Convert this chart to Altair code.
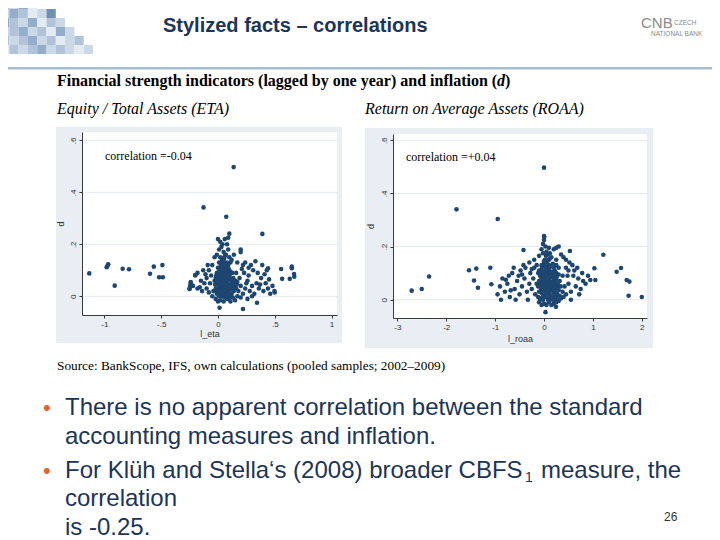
import altair as alt
import pandas as pd

# ------------------------------------------------------------------ data
# (l_eta, d) pairs
eta_points = [
    (-1.133, 0.088), (-0.980, 0.112), (-0.966, 0.123), (-0.972, 0.117), (-0.909, 0.041),
    (-0.839, 0.106), (-0.783, 0.104), (-0.598, 0.087), (-0.565, 0.114), (-0.518, 0.073),
    (-0.489, 0.120), (-0.485, 0.073), (-0.127, 0.342), (0.138, 0.497), (0.073, 0.306),
    (0.391, 0.240), (0.100, 0.241), (0.090, 0.225), (0.014, -0.044), (0.220, -0.049),
    (0.344, -0.025), (0.650, 0.114), (0.650, 0.108), (0.670, 0.086), (0.672, 0.075),
    (0.556, 0.105), (0.565, 0.067), (0.632, 0.067), (0.497, 0.020), (0.441, 0.108),
    (-0.200, 0.082), (-0.250, 0.028), (-0.240, 0.050), (-0.245, 0.040),
    (0.00, 0.22), (0.02, 0.21), (0.04, 0.20), (0.03, 0.19), (0.06, 0.22), (0.08, 0.20),
    (0.05, 0.17), (-0.01, 0.16), (0.01, 0.18), (0.10, 0.15), (0.14, 0.16), (0.12, 0.14),
    (0.17, 0.13), (0.20, 0.17), (0.20, 0.18), (0.24, 0.13), (0.27, 0.11), (0.22, 0.12),
    (-0.03, 0.15), (0.07, 0.16), (0.09, 0.18), (0.11, 0.13),
    (-0.05, 0.12), (-0.08, 0.10), (-0.10, 0.07), (-0.12, 0.05), (-0.15, 0.06), (-0.18, 0.09),
    (-0.20, 0.08), (-0.22, 0.04), (-0.25, 0.03), (-0.24, 0.055), (-0.18, 0.03), (-0.14, 0.02),
    (-0.10, 0.03), (-0.07, 0.05), (-0.06, 0.08), (-0.09, 0.12), (-0.13, 0.10), (-0.04, 0.02),
    (-0.05, 0.00), (-0.03, 0.06), (-0.11, 0.085), (-0.16, 0.035), (-0.08, 0.015),
    (-0.02, -0.01), (0.00, -0.02), (0.02, -0.015), (0.05, -0.02), (0.08, -0.01), (0.11, -0.02),
    (0.13, -0.005), (0.15, -0.015), (-0.01, 0.01), (0.01, 0.00), (0.03, 0.01), (0.06, 0.005),
    (0.09, 0.00), (0.12, 0.01), (0.14, 0.02), (0.17, 0.00), (-0.02, 0.03), (0.00, 0.025),
    (0.02, 0.035), (0.04, 0.02), (0.07, 0.03), (0.10, 0.025), (0.13, 0.035), (0.16, 0.03),
    (-0.01, 0.05), (0.01, 0.045), (0.03, 0.055), (0.05, 0.04), (0.08, 0.05), (0.11, 0.045),
    (0.14, 0.055), (-0.02, 0.07), (0.00, 0.065), (0.02, 0.075), (0.05, 0.065), (0.07, 0.07),
    (0.10, 0.075), (0.12, 0.065), (-0.01, 0.09), (0.01, 0.085), (0.03, 0.095), (0.06, 0.09),
    (0.09, 0.085), (0.11, 0.095), (0.00, 0.11), (0.02, 0.105), (0.04, 0.115), (0.07, 0.11),
    (0.09, 0.12), (0.01, 0.13), (0.03, 0.125), (0.05, 0.135), (0.08, 0.13), (0.02, 0.15),
    (0.04, 0.145), (0.06, 0.155),
    (0.005, 0.015), (0.025, 0.025), (0.045, 0.03), (0.065, 0.015), (0.085, 0.02), (0.105, 0.01),
    (0.125, 0.025), (0.035, 0.00), (0.055, -0.005), (0.075, 0.005), (0.095, -0.01), (0.115, 0.00),
    (0.015, 0.06), (0.035, 0.07), (0.055, 0.055), (0.075, 0.06), (0.095, 0.065), (0.115, 0.06),
    (0.135, 0.07), (0.005, 0.08), (0.025, 0.09), (0.045, 0.08), (0.065, 0.085), (0.085, 0.095),
    (0.105, 0.085), (0.125, 0.09), (0.015, 0.10), (0.035, 0.105), (0.055, 0.10), (0.075, 0.095),
    (0.095, 0.105), (0.025, 0.12), (0.045, 0.125), (0.065, 0.12), (0.085, 0.115), (0.035, 0.14),
    (0.055, 0.145), (0.005, 0.04), (0.025, 0.045), (0.045, 0.05), (0.065, 0.045), (0.085, 0.035),
    (0.105, 0.04), (0.125, 0.05), (0.145, 0.04), (-0.015, 0.02), (-0.025, 0.045), (-0.015, 0.08),
    (0.155, 0.06), (0.165, 0.045),
    (0.18, 0.02), (0.20, 0.04), (0.22, 0.01), (0.24, 0.03), (0.26, 0.06), (0.28, 0.02),
    (0.30, 0.04), (0.32, 0.01), (0.34, 0.05), (0.36, 0.03), (0.38, 0.07), (0.40, 0.02),
    (0.42, 0.05), (0.44, 0.03), (0.46, 0.01), (0.48, 0.04), (0.50, 0.015), (0.19, 0.07),
    (0.23, 0.09), (0.27, 0.08), (0.31, 0.10), (0.35, 0.09), (0.39, 0.12), (0.41, 0.085),
    (0.45, 0.065), (0.29, 0.12), (0.33, 0.135), (0.21, 0.105), (0.25, 0.05), (0.37, 0.045),
    (0.17, 0.055), (0.16, 0.09), (0.43, 0.10), (0.30, 0.00), (0.26, -0.01), (0.20, -0.005),
]

# (l_roaa, d) pairs
roaa_points = [
    (-2.706, 0.034), (-2.500, 0.040), (-2.350, 0.087), (-1.790, 0.340), (-0.947, 0.304),
    (0.000, 0.497), (-1.534, 0.111), (-1.385, 0.117), (-1.431, 0.072), (-1.350, 0.045),
    (-1.098, 0.120), (-1.077, 0.058), (1.213, 0.169), (1.030, 0.118), (1.486, 0.105),
    (1.575, 0.119), (1.690, 0.074), (1.745, 0.068), (1.730, 0.015), (2.000, 0.010),
    (-0.420, 0.187), (0.005, 0.237), (0.030, -0.047), (0.245, -0.027), (0.530, 0.183),
    (0.947, 0.074), (1.050, 0.074),
    (0.00, 0.24), (0.00, 0.225), (-0.02, 0.21), (0.03, 0.20), (0.10, 0.195), (0.20, 0.19),
    (0.25, 0.195), (0.30, 0.20), (-0.05, 0.19), (0.05, 0.18), (0.12, 0.175), (0.15, 0.16),
    (-0.10, 0.165), (0.35, 0.17), (0.45, 0.15), (0.40, 0.16), (-0.20, 0.15), (-0.30, 0.14),
    (0.25, 0.15),
    (-0.95, 0.02), (-0.90, 0.05), (-0.85, 0.08), (-0.80, 0.03), (-0.75, 0.06), (-0.70, 0.01),
    (-0.65, 0.10), (-0.60, 0.04), (-0.55, 0.07), (-0.50, 0.02), (-0.48, 0.11), (-0.45, 0.05),
    (-0.40, 0.08), (-0.38, 0.12), (-0.35, 0.03), (-0.30, 0.06), (-0.28, 0.10), (-0.25, 0.04),
    (-0.22, 0.08), (-0.20, 0.12), (-0.18, 0.02), (-0.15, 0.06), (-0.12, 0.10), (-0.62, 0.12),
    (-0.72, 0.09), (-0.88, 0.00), (-0.58, 0.00), (-0.42, 0.13), (-0.52, 0.09), (-0.33, 0.00),
    (-0.68, 0.035), (-0.78, 0.075), (-0.45, 0.095), (-0.15, 0.13), (-0.25, 0.115),
    (-0.10, -0.01), (-0.05, -0.02), (0.00, -0.015), (0.05, -0.02), (0.10, -0.01), (0.15, -0.02),
    (0.20, -0.015), (0.25, -0.01), (0.30, -0.005), (-0.12, 0.01), (-0.07, 0.005), (-0.02, 0.00),
    (0.03, 0.01), (0.08, 0.00), (0.13, 0.005), (0.18, 0.01), (0.23, 0.00), (0.28, 0.01),
    (0.35, 0.005), (0.40, 0.01), (-0.10, 0.03), (-0.05, 0.025), (0.00, 0.035), (0.05, 0.025),
    (0.10, 0.03), (0.15, 0.035), (0.20, 0.025), (0.25, 0.03), (0.30, 0.035), (0.38, 0.03),
    (-0.12, 0.05), (-0.07, 0.055), (-0.02, 0.045), (0.03, 0.05), (0.08, 0.055), (0.13, 0.045),
    (0.18, 0.05), (0.23, 0.055), (0.28, 0.045), (0.34, 0.05), (0.42, 0.05), (-0.10, 0.07),
    (-0.05, 0.075), (0.00, 0.065), (0.05, 0.07), (0.10, 0.075), (0.15, 0.065), (0.20, 0.07),
    (0.25, 0.075), (0.32, 0.07), (-0.08, 0.09), (-0.03, 0.095), (0.02, 0.085), (0.07, 0.09),
    (0.12, 0.095), (0.17, 0.085), (0.22, 0.09), (0.30, 0.095), (0.38, 0.09), (-0.10, 0.11),
    (-0.05, 0.115), (0.00, 0.105), (0.05, 0.11), (0.10, 0.115), (0.15, 0.105), (0.22, 0.11),
    (0.30, 0.12), (-0.05, 0.13), (0.00, 0.135), (0.05, 0.125), (0.10, 0.13), (0.18, 0.135),
    (0.25, 0.13), (0.02, 0.15), (0.07, 0.145), (0.12, 0.155),
    (-0.08, 0.00), (-0.03, 0.01), (0.02, 0.02), (0.07, 0.015), (0.12, 0.02), (0.17, 0.00),
    (0.22, 0.015), (0.27, 0.02), (0.32, 0.015), (-0.06, 0.04), (-0.01, 0.05), (0.04, 0.04),
    (0.09, 0.045), (0.14, 0.055), (0.19, 0.04), (0.24, 0.045), (0.29, 0.055), (-0.08, 0.06),
    (-0.03, 0.065), (0.02, 0.06), (0.07, 0.06), (0.12, 0.065), (0.17, 0.06), (0.22, 0.065),
    (0.27, 0.06), (-0.06, 0.085), (-0.01, 0.08), (0.04, 0.09), (0.09, 0.08), (0.14, 0.09),
    (0.19, 0.08), (0.26, 0.085), (-0.08, 0.10), (-0.03, 0.105), (0.02, 0.10), (0.07, 0.10),
    (0.12, 0.105), (0.18, 0.10), (0.25, 0.10), (-0.03, 0.125), (0.03, 0.12), (0.08, 0.12),
    (0.14, 0.125), (0.20, 0.12), (0.00, 0.145), (0.05, 0.14), (0.10, 0.15), (0.04, 0.165),
    (0.08, 0.17), (-0.02, 0.175),
    (0.45, 0.02), (0.50, 0.06), (0.55, 0.03), (0.60, 0.09), (0.65, 0.05), (0.70, 0.08),
    (0.75, 0.04), (0.80, 0.07), (0.85, 0.06), (0.90, 0.09), (0.50, 0.11), (0.55, 0.00),
    (0.58, 0.13), (0.62, 0.11), (0.48, 0.09), (0.68, 0.12), (0.72, 0.02), (0.78, 0.10),
    (0.45, 0.12), (0.52, 0.14),
]

y_ticks = [0, 0.2, 0.4, 0.6]
eta_ticks = [-1, -0.5, 0, 0.5, 1]
roaa_ticks = [-3, -2, -1, 0, 1, 2]

# decorative header mosaic: shade level of each cell, row by row
mosaic_rows = [
    [3, 2, 4, 1],
    [2, 4, 3, 1, 2, 5],
    [4, 3, 2, 4, 1, 3, 2],
    [2, 3, 4, 2, 3, 1, 4, 2],
    [3, 2, 3, 4, 2, 3, 1, 2, 3],
    [1, 3, 2, 3, 4, 2, 3, 2, 1, 2],
]

title_text = "Stylized facts \u2013 correlations"
fig_title = "Financial strength indicators (lagged by one year) and inflation ("
sub_left = "Equity / Total Assets (ETA)"
sub_right = "Return on Average Assets (ROAA)"
corr_left = "correlation =-0.04"
corr_right = "correlation =+0.04"
source_text = "Source: BankScope, IFS, own calculations (pooled samples; 2002\u20132009)"
bullet_lines = [
    "There is no apparent correlation between the standard",
    "accounting measures and inflation.",
    "For Kl\u00fch and Stella\u2018s (2008) broader CBFS",
    "correlation",
    "is -0.25.",
]

# ------------------------------------------------------------------ style
W, H = 704, 532
NAVY = "#1c3557"
PT = "#1d4670"
GRID = "#e4eaef"
PANEL = "#e8eef3"
SANS = "Liberation Sans"
NARROW = "Liberation Sans Narrow, Arial Narrow, Liberation Sans"
SERIF = "Liberation Serif"
LBL = "datum.value == 0 ? '0' : replace(toString(datum.value), '0.', '.')"

AX = dict(
    grid=False, zindex=1, domainColor="#3a3a3a", tickColor="#3a3a3a", tickSize=3,
    labelFontSize=8, labelColor="#333333", labelFont=SANS, labelPadding=2,
    titleFont=SANS, titleFontSize=9, titleFontWeight="normal", titleColor="#333333",
    labelFlush=False, labelOverlap=False,
)


def text_layer(s, x, y, size, font=SANS, color="#000000", weight="normal",
               style="normal", align="left"):
    return alt.Chart(pd.DataFrame({"label": [s]})).mark_text(
        align=align, baseline="middle", fontSize=size, font=font, color=color,
        fontWeight=weight, fontStyle=style,
    ).encode(x=alt.value(x), y=alt.value(y), text="label:N")


def box(x1, y1, x2, y2, color):
    return alt.Chart(pd.DataFrame({"k": [0]})).mark_rect(color=color).encode(
        x=alt.value(x1), x2=alt.value(x2), y=alt.value(y1), y2=alt.value(y2)
    )


# ------------------------------------------------------------------ header
cells = []
for r, row in enumerate(mosaic_rows):
    for c, shade in enumerate(row):
        cells.append({"c": c, "c1": c + 1, "r": r, "r1": r + 1, "shade": shade})
mosaic = alt.Chart(pd.DataFrame(cells)).mark_rect().encode(
    x=alt.X("c:Q", scale=alt.Scale(domain=[0, 10], range=[-8, 85], nice=False, zero=False), axis=None),
    x2="c1:Q",
    y=alt.Y("r:Q", scale=alt.Scale(domain=[0, 6], range=[-8, 46], nice=False, zero=False), axis=None),
    y2="r1:Q",
    color=alt.Color("shade:O", scale=alt.Scale(domain=[1, 2, 3, 4, 5],
                    range=["#e4ebf2", "#cbd8e6", "#b0c3d8", "#94aec9", "#6f8fb4"]), legend=None),
)

header_line = box(0, 59, W, 61, "#a7bbcf")
header_line2 = box(0, 61, W, 62, "#d6e0ea")

# ------------------------------------------------------------------ panels
eta_df = pd.DataFrame(eta_points, columns=["l_eta", "d"])
roaa_df = pd.DataFrame(roaa_points, columns=["l_roaa", "d"])
grid_df = pd.DataFrame({"d": y_ticks})

xs_eta = alt.Scale(domain=[-1.197, 1.048], range=[74, 329], nice=False, zero=False)
ys_eta = alt.Scale(domain=[-0.072, 0.632], range=[307, 124], nice=False, zero=False)
xs_roa = alt.Scale(domain=[-3.088, 2.106], range=[385, 639], nice=False, zero=False)
ys_roa = alt.Scale(domain=[-0.069, 0.6237], range=[310, 126], nice=False, zero=False)

left_grid = alt.Chart(grid_df).mark_rule(color=GRID, strokeWidth=1).encode(
    y=alt.Y("d:Q", scale=ys_eta, axis=None), x=alt.value(74), x2=alt.value(329)
)
right_grid = alt.Chart(grid_df).mark_rule(color=GRID, strokeWidth=1).encode(
    y=alt.Y("d:Q", scale=ys_roa, axis=None), x=alt.value(385), x2=alt.value(639)
)

left_pts = alt.Chart(eta_df).mark_circle(size=21, color=PT, opacity=1).encode(
    x=alt.X("l_eta:Q", scale=xs_eta, title="l_eta",
            axis=alt.Axis(orient="bottom", offset=307 - H, values=eta_ticks,
                          labelExpr=LBL, titlePadding=1, **AX)),
    y=alt.Y("d:Q", scale=ys_eta, title="d",
            axis=alt.Axis(orient="left", offset=-74, values=y_ticks, labelExpr=LBL,
                          labelAngle=270, labelAlign="center", labelBaseline="bottom",
                          titlePadding=4, **AX)),
)
right_pts = alt.Chart(roaa_df).mark_circle(size=21, color=PT, opacity=1).encode(
    x=alt.X("l_roaa:Q", scale=xs_roa, title="l_roaa",
            axis=alt.Axis(orient="bottom", offset=310 - H, values=roaa_ticks,
                          labelExpr=LBL, titlePadding=3, **AX)),
    y=alt.Y("d:Q", scale=ys_roa, title="d",
            axis=alt.Axis(orient="left", offset=-385, values=y_ticks, labelExpr=LBL,
                          labelAngle=270, labelAlign="center", labelBaseline="bottom",
                          titlePadding=5, **AX)),
)

layers = [
    mosaic, header_line, header_line2,
    text_layer(title_text, 155, 18, 20, font=NARROW, color=NAVY, weight="bold"),
    text_layer("CNB", 633, 15, 15, font=NARROW, color="#8a8a8a"),
    text_layer("CZECH", 666, 15, 6.5, color="#8a8a8a"),
    text_layer("NATIONAL BANK", 643, 26, 6.5, color="#8a8a8a"),
    text_layer(fig_title, 49, 73, 16, font=SERIF, weight="bold"),
    text_layer("d", 489, 73, 16, font=SERIF, weight="bold", style="italic"),
    text_layer(")", 497, 73, 16, font=SERIF, weight="bold"),
    text_layer(sub_left, 49, 101, 16, font=SERIF, style="italic"),
    text_layer(sub_right, 357, 101, 16, font=SERIF, style="italic"),
    box(48, 119, 334, 335, PANEL),
    box(74, 124, 329, 307, "#ffffff"),
    box(357, 120, 645, 340, PANEL),
    box(385, 126, 639, 310, "#ffffff"),
    left_grid, right_grid, left_pts, right_pts,
    text_layer(corr_left, 97, 148, 12, font=SERIF),
    text_layer(corr_right, 398, 149, 12, font=SERIF),
    text_layer(source_text, 49, 358, 13.3, font=SERIF),
    text_layer("\u2022", 35, 400, 22, color="#e0632e"),
    text_layer("\u2022", 35, 463, 22, color="#e0632e"),
    text_layer(bullet_lines[0], 57, 400, 24, color=NAVY),
    text_layer(bullet_lines[1], 57, 429, 24, color=NAVY),
    text_layer(bullet_lines[2], 57, 463, 24, color=NAVY),
    text_layer("1", 517, 470, 14, color=NAVY),
    text_layer("measure, the", 533, 463, 24, color=NAVY),
    text_layer(bullet_lines[3], 57, 491, 24, color=NAVY),
    text_layer(bullet_lines[4], 57, 520, 24, color=NAVY),
    text_layer("26", 656, 509, 12, color="#333333"),
]

chart = (
    alt.layer(*layers)
    .resolve_scale(x="independent", y="independent")
    .properties(width=W, height=H, padding=0, autosize="none", background="white")
    .configure_view(stroke=None)
)

chart.save("out.html", embed_options={"renderer": "svg", "actions": False})
